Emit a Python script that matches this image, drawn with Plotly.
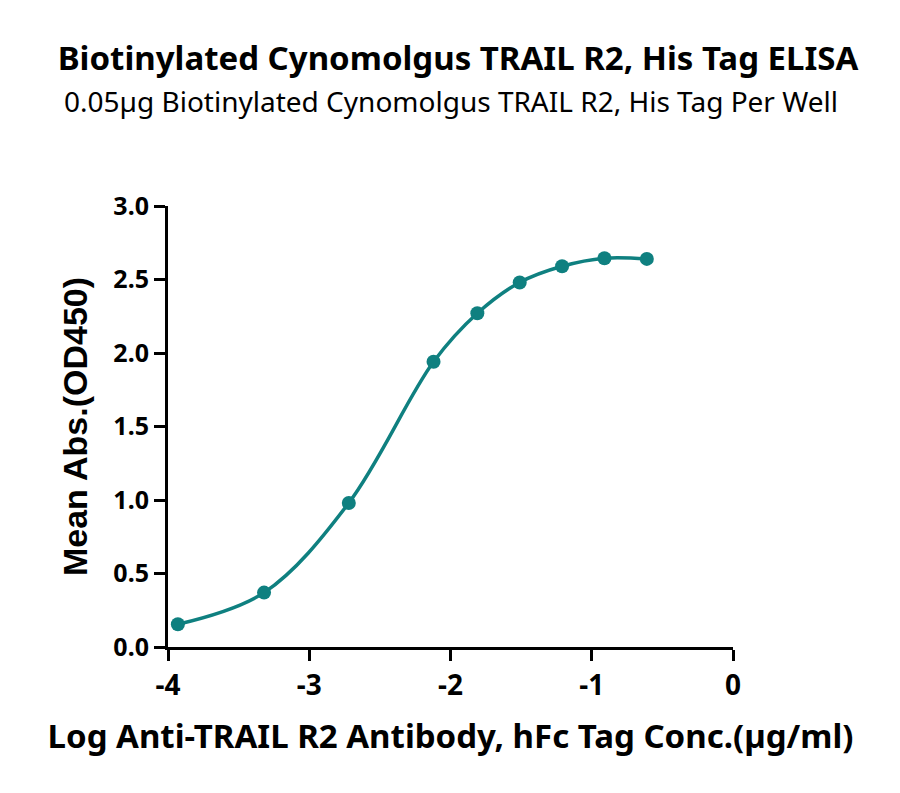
import plotly.graph_objects as go

# log concentration (ug/ml) and mean absorbance at 450 nm
log_conc = [-3.93, -3.32, -2.72, -2.12, -1.81, -1.51, -1.21, -0.91, -0.61]
mean_abs = [0.155, 0.37, 0.98, 1.94, 2.27, 2.48, 2.59, 2.645, 2.64]

x_ticks = [-4, -3, -2, -1, 0]
y_ticks = [0.0, 0.5, 1.0, 1.5, 2.0, 2.5, 3.0]

teal = '#0f8080'
sans = 'Noto Sans'

fig = go.Figure()
fig.add_trace(go.Scatter(
    x=log_conc, y=mean_abs,
    mode='lines+markers',
    line=dict(color=teal, width=3.5, shape='spline', smoothing=1.0),
    marker=dict(color=teal, size=14),
    cliponaxis=False,
    showlegend=False))

axis_common = dict(showline=True, linecolor='black', linewidth=3,
                   ticks='outside', ticklen=11, tickwidth=3, tickcolor='black',
                   showgrid=False, zeroline=False, mirror=False)

fig.update_xaxes(range=[-4, 0], tickvals=x_ticks,
                 ticktext=[str(v) for v in x_ticks],
                 tickfont=dict(family=sans, size=28, color='black', weight='bold'),
                 title=dict(text='Log Anti-TRAIL R2 Antibody, hFc Tag Conc.(µg/ml)',
                            font=dict(family=sans, size=33, color='black', weight='bold'),
                            standoff=24),
                 **axis_common)
fig.update_yaxes(range=[0, 3], tickvals=y_ticks,
                 ticktext=['%.1f' % v for v in y_ticks],
                 tickfont=dict(family=sans, size=25, color='black', weight='bold'),
                 title=dict(text='Mean Abs.(OD450)',
                            font=dict(family='Liberation Sans', size=34, color='black', weight='bold'),
                            standoff=16),
                 **axis_common)

fig.update_layout(
    width=900, height=793,
    margin=dict(l=160, r=175, t=198, b=154),
    paper_bgcolor='white', plot_bgcolor='white',
    title=dict(text='Biotinylated Cynomolgus TRAIL R2, His Tag ELISA',
               font=dict(family=sans, size=33, color='black', weight='bold'),
               x=0.5, xanchor='center', y=0.937, yanchor='middle'),
    annotations=[dict(text='0.05µg Biotinylated Cynomolgus TRAIL R2, His Tag Per Well',
                      xref='paper', yref='paper', x=0.5, y=1.0,
                      xanchor='center', yanchor='middle', yshift=105, showarrow=False,
                      font=dict(family=sans, size=28, color='black'))])

fig.write_html('out.html')
